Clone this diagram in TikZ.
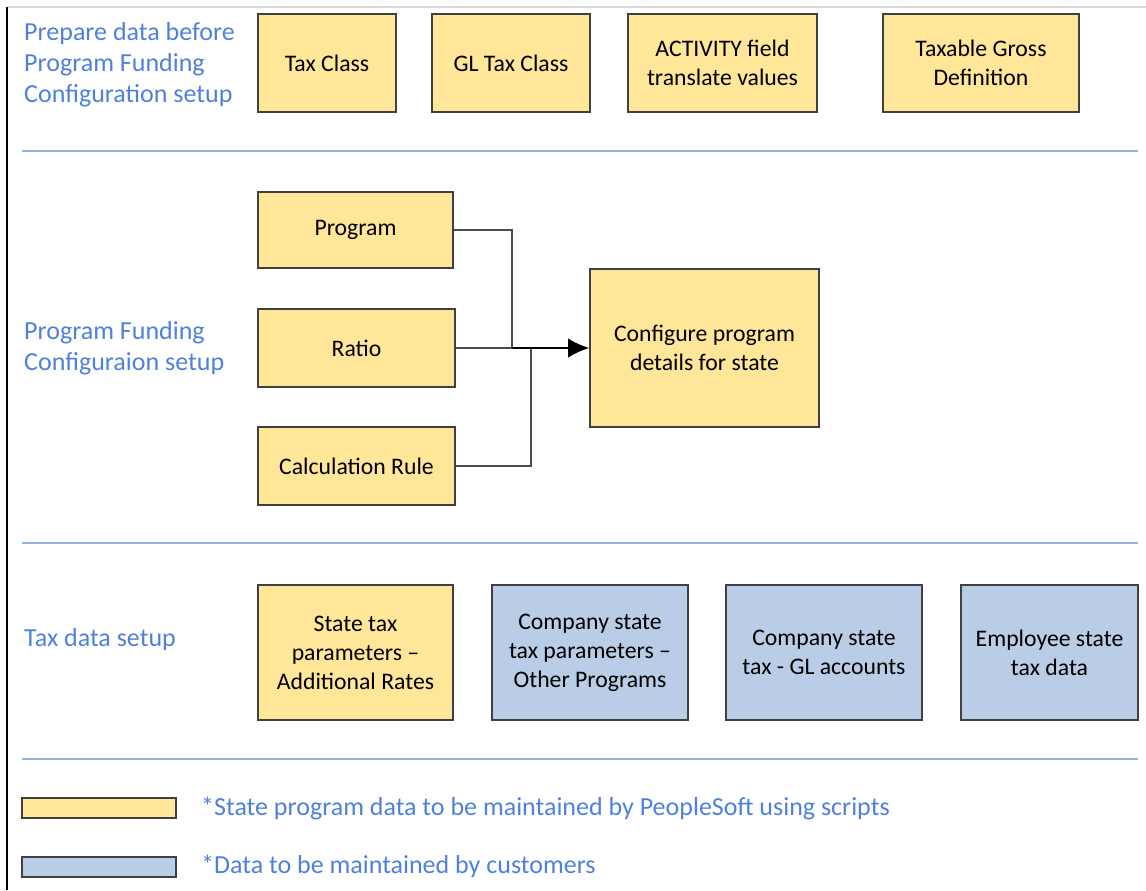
\documentclass[tikz,border=0pt]{standalone}
\usepackage{fontspec}
\setmainfont{Carlito}
\usetikzlibrary{arrows.meta}
\definecolor{boxyellow}{RGB}{255,230,153}
\definecolor{boxblue}{RGB}{186,205,230}
\definecolor{labblue}{RGB}{78,128,222}
\definecolor{seprule}{RGB}{150,178,225}
\definecolor{boxline}{RGB}{64,64,64}

\begin{document}
\begin{tikzpicture}[>=Latex, font=\fontsize{13.5}{16.5}\selectfont,
    ybox/.style={rectangle, draw=boxline, line width=0.8pt, fill=boxyellow, align=center, inner sep=2pt},
    bbox/.style={ybox, fill=boxblue},
    lab/.style={anchor=west, align=left, text=labblue, font=\fontsize{14.8}{17.6}\selectfont},
    sep/.style={draw=seprule, line width=1pt},
    wire/.style={draw=black!70, line width=0.8pt}]
  \useasboundingbox (0,0) rectangle (22.92,-17.8);
  % ---- frame
  \draw[black!15, line width=0.8pt] (0.14,-0.14) -- (22.92,-0.14);
  \draw[black, line width=0.8pt] (0.14,-0.14) -- (0.14,-17.8);
  % ---- separators
  \foreach \y in {-3.02,-10.86,-15.18}
    \draw[sep] (0.44,\y) -- (22.76,\y);
  % ---- prepare data
  \node[lab] (prep) at (0.36,-1.30) {Prepare data before\\Program Funding\\Configuration setup};
  \node[ybox, minimum width=2.76cm, minimum height=1.96cm] (taxcls) at (6.54,-1.26) {Tax Class};
  \node[ybox, minimum width=3.16cm, minimum height=1.96cm] (gltax) at (10.22,-1.26) {GL Tax Class};
  \node[ybox, minimum width=3.78cm, minimum height=1.96cm] (activ) at (14.45,-1.26) {ACTIVITY field\\translate values};
  \node[ybox, minimum width=3.92cm, minimum height=1.96cm] (gross) at (19.62,-1.26) {Taxable Gross\\Definition};
  % ---- program funding configuration
  \node[lab] (pfc) at (0.36,-6.96) {Program Funding\\Configuraion setup};
  \node[ybox, minimum width=3.90cm, minimum height=1.52cm] (prog) at (7.11,-4.60) {Program};
  \node[ybox, minimum width=3.94cm, minimum height=1.56cm] (ratio) at (7.13,-6.96) {Ratio};
  \node[ybox, minimum width=3.94cm, minimum height=1.56cm] (calc) at (7.13,-9.32) {Calculation Rule};
  \node[ybox, minimum width=4.58cm, minimum height=3.16cm] (conf) at (14.09,-6.96) {Configure program\\details for state};
  \coordinate (j1) at (10.24,-6.96);
  \coordinate (j2) at (10.62,-6.96);
  \draw[wire] (prog.east) -| (j1);
  \draw[wire] (calc.east) -| (j2);
  \draw[wire] (ratio.east) -- (j1);
  \draw[black, line width=1.2pt, -{Latex[length=12pt, width=11pt]}] (j1) -- (conf.west);
  % ---- tax data
  \node[lab] (taxd) at (0.36,-12.80) {Tax data setup};
  \node[ybox, minimum width=3.90cm, minimum height=2.70cm] (sttax) at (7.11,-13.05) {State tax\\parameters --\\Additional Rates};
  \node[bbox, minimum width=3.92cm, minimum height=2.70cm] (cotax) at (11.80,-13.05) {Company state\\tax parameters --\\Other Programs};
  \node[bbox, minimum width=3.92cm, minimum height=2.70cm] (cogl) at (16.48,-13.05) {Company state\\tax - GL accounts};
  \node[bbox, minimum width=3.54cm, minimum height=2.70cm] (emptax) at (20.99,-13.05) {Employee state\\tax data};
  % ---- legend
  \node[ybox, minimum width=3.08cm, minimum height=0.40cm, inner sep=0pt] (keyy) at (1.98,-16.16) {};
  \node[bbox, minimum width=3.08cm, minimum height=0.40cm, inner sep=0pt] (keyb) at (1.98,-17.34) {};
  \node[lab] (keyyt) at (3.90,-16.16) {*State program data to be maintained by PeopleSoft using scripts};
  \node[lab] (keybt) at (3.90,-17.32) {*Data to be maintained by customers};
\end{tikzpicture}
\end{document}
